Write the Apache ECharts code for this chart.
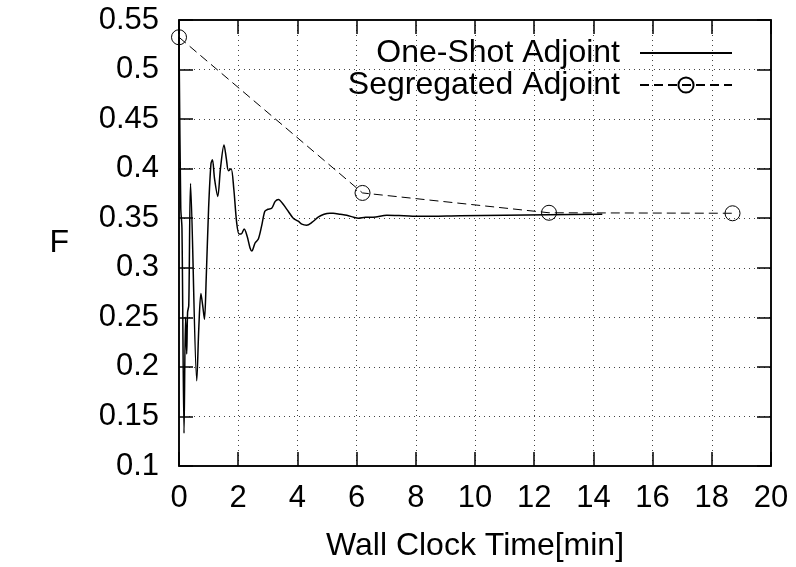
<!DOCTYPE html>
<html>
<head>
<meta charset="utf-8">
<script src="https://cdn.jsdelivr.net/npm/echarts@6/dist/echarts.min.js"></script>
<style>html,body{margin:0;padding:0;background:#fff}#c{width:796px;height:567px}</style>
</head>
<body>
<div id="c"></div>
<script>
var oneShotX = [0, 0.06, 0.10, 0.17, 0.22, 0.26, 0.29, 0.33, 0.39, 0.60, 0.67, 0.74, 0.80, 0.86, 0.92, 1.00, 1.08, 1.13, 1.20, 1.31, 1.40, 1.52, 1.60, 1.67, 1.76, 1.85, 1.95, 2.03, 2.10, 2.20, 2.30, 2.40, 2.46, 2.57, 2.68, 2.79, 2.90, 3.00, 3.13, 3.25, 3.36, 3.52, 3.69, 3.86, 4.03, 4.15, 4.31, 4.50, 4.70, 4.90, 5.10, 5.21, 5.45, 5.67, 5.90, 6.06, 6.30, 6.56, 7.02, 7.60, 8.14, 9.50, 11.0, 12.5, 14.3];
var oneShotY = [0.533, 0.36, 0.340, 0.133, 0.250, 0.213, 0.255, 0.262, 0.385, 0.186, 0.24, 0.274, 0.262, 0.248, 0.29, 0.36, 0.405, 0.409, 0.39, 0.372, 0.40, 0.424, 0.41, 0.398, 0.40, 0.38, 0.345, 0.334, 0.334, 0.339, 0.332, 0.320, 0.317, 0.325, 0.329, 0.342, 0.357, 0.359, 0.360, 0.367, 0.369, 0.364, 0.357, 0.350, 0.347, 0.344, 0.343, 0.346, 0.351, 0.354, 0.355, 0.355, 0.354, 0.353, 0.351, 0.350, 0.351, 0.351, 0.353, 0.3525, 0.352, 0.3525, 0.353, 0.3535, 0.354];
var segX = [0.0, 6.2, 12.5, 18.7];
var segY = [0.5326, 0.3755, 0.3555, 0.355];
var xTickValues = [0, 2, 4, 6, 8, 10, 12, 14, 16, 18, 20];
var xTickLabels = ['0', '2', '4', '6', '8', '10', '12', '14', '16', '18', '20'];
var yTickValues = [0.1, 0.15, 0.2, 0.25, 0.3, 0.35, 0.4, 0.45, 0.5, 0.55];
var yTickLabels = ['0.1', '0.15', '0.2', '0.25', '0.3', '0.35', '0.4', '0.45', '0.5', '0.55'];
var seriesNames = ['One-Shot Adjoint', 'Segregated Adjoint'];
var xName = 'Wall Clock Time[min]';
var yName = 'F';

function zip(a, b) { return a.map(function (v, i) { return [v, b[i]]; }); }
function lookup(vals, labels, v) {
  for (var i = 0; i < vals.length; i++) if (Math.abs(vals[i] - v) < 1e-9) return labels[i];
  return '';
}
var FONT = 'Liberation Sans, Arial, sans-serif';
var FS = 31;
var FSN = 32;
var gridLine = { show: true, lineStyle: { color: '#444', width: 1, type: [1, 4] } };
var chart = echarts.init(document.getElementById('c'), null, { renderer: 'canvas' });
chart.setOption({
  backgroundColor: '#fff',
  animation: false,
  grid: { left: 179, right: 25, top: 20, bottom: 100.5, show: true, borderColor: '#000', borderWidth: 1.5, containLabel: false },
  legend: {
    orient: 'vertical', right: 58, top: 32, align: 'right',
    itemWidth: 92, itemHeight: 19, itemGap: 0,
    textStyle: { fontFamily: FONT, fontSize: FSN, color: '#000', lineHeight: 32, padding: [0, 15, 0, 0] },
    data: [
      { name: seriesNames[0], itemStyle: { opacity: 0 } },
      { name: seriesNames[1] }
    ]
  },
  xAxis: [{
    type: 'value', min: 0, max: 20, interval: 2, position: 'bottom',
    name: xName, nameLocation: 'middle', nameGap: 64,
    nameTextStyle: { fontFamily: FONT, fontSize: FSN, color: '#000' },
    axisLine: { show: true, onZero: false, lineStyle: { color: '#000', width: 1.5 } },
    axisTick: { show: true, inside: true, length: 14, lineStyle: { color: '#000', width: 1.5 } },
    axisLabel: { fontFamily: FONT, fontSize: FS, color: '#000', margin: 17, formatter: function (v) { return lookup(xTickValues, xTickLabels, v); } },
    splitLine: gridLine
  }, {
    type: 'value', min: 0, max: 20, interval: 2, position: 'top',
    axisLine: { show: true, onZero: false, lineStyle: { color: '#000', width: 1.5 } },
    axisTick: { show: true, inside: true, length: 14, lineStyle: { color: '#000', width: 1.5 } },
    axisLabel: { show: false }, splitLine: { show: false }
  }],
  yAxis: [{
    type: 'value', min: 0.1, max: 0.55, interval: 0.05, position: 'left',
    name: yName, nameLocation: 'middle', nameGap: 110, nameRotate: 0,
    nameTextStyle: { fontFamily: FONT, fontSize: FSN, color: '#000' },
    axisLine: { show: true, onZero: false, lineStyle: { color: '#000', width: 1.5 } },
    axisTick: { show: true, inside: true, length: 14, lineStyle: { color: '#000', width: 1.5 } },
    axisLabel: { fontFamily: FONT, fontSize: FS, color: '#000', margin: 20, formatter: function (v) { return lookup(yTickValues, yTickLabels, v); } },
    splitLine: gridLine
  }, {
    type: 'value', min: 0.1, max: 0.55, interval: 0.05, position: 'right',
    axisLine: { show: true, onZero: false, lineStyle: { color: '#000', width: 1.5 } },
    axisTick: { show: true, inside: true, length: 14, lineStyle: { color: '#000', width: 1.5 } },
    axisLabel: { show: false }, splitLine: { show: false }
  }],
  series: [{
    name: seriesNames[0], type: 'line', data: zip(oneShotX, oneShotY),
    smooth: 0.3, showSymbol: false, symbol: 'none',
    lineStyle: { color: '#000', width: 1.5, type: 'solid' },
    itemStyle: { color: '#000' }, z: 3
  }, {
    name: seriesNames[1], type: 'line', data: zip(segX, segY),
    symbol: 'circle', symbolSize: 15,
    lineStyle: { color: '#000', width: 1, type: [9, 5] },
    itemStyle: { color: 'rgba(0,0,0,0)', borderColor: '#000', borderWidth: 1 }, z: 2
  }]
});
</script>
</body>
</html>
